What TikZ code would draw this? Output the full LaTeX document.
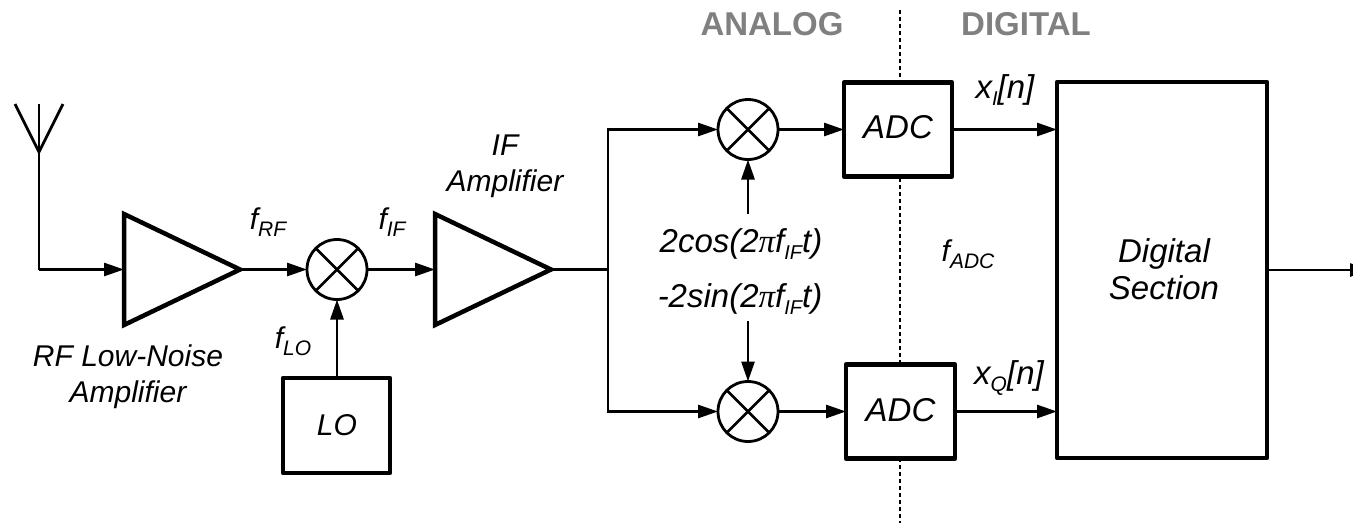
\documentclass[tikz,border=0pt]{standalone}
\usepackage{fontspec}
\setmainfont{Liberation Sans}
\newfontfamily\piface{Liberation Serif}
\usetikzlibrary{arrows.meta,shapes.geometric}
\newcommand{\sbsc}[1]{\raisebox{-0.24em}{\fontsize{21}{21}\selectfont #1}}
\newcommand{\sbsm}[1]{\raisebox{-0.2em}{\fontsize{20}{20}\selectfont #1}}
\newcommand{\pisym}{{\piface\itshape π}}
\tikzset{
  sig/.style={line width=2.8pt,-{Triangle[length=20pt,width=13pt]}},
  wire/.style={line width=2.8pt},
  thick box/.style={draw,line width=4.5pt,line join=round,inner sep=0pt,outer sep=0pt},
  amp/.style={draw,isosceles triangle,isosceles triangle stretches,line width=4.5pt,line join=miter,
    minimum width=111pt,minimum height=116pt,inner sep=0pt,outer sep=0pt,anchor=apex},
  mixer/.style={draw,circle,line width=2.8pt,minimum size=60pt,inner sep=0pt,outer sep=0pt},
  lbl/.style={inner sep=0pt,outer sep=0pt,align=center,font=\fontsize{30}{36}\selectfont\itshape},
  big/.style={lbl,font=\fontsize{33}{37}\selectfont\itshape},
  side/.style={inner sep=0pt,outer sep=0pt,text=black!50,font=\fontsize{33}{36}\selectfont\bfseries},
}
\begin{document}
\begin{tikzpicture}[x=1pt,y=-1pt]
\useasboundingbox (0,0) rectangle (1353,523);
% dashed boundary (behind the blocks)
\coordinate (dtop) at (900,10);
\coordinate (dbot) at (900,523);
\draw[line width=2.5pt,dash pattern=on 4pt off 3pt] (dtop) -- (dbot);
% antenna
\coordinate (anttop) at (39,104);
\coordinate (antl) at (15,104);
\coordinate (antr) at (63,104);
\coordinate (antj) at (39,152);
\coordinate (antb) at (39,269.5);
\draw[wire] (antl) -- (antj) -- (antr);
\draw[wire] (anttop) -- (antj) -- (antb);
% blocks
\node[amp] (rf) at (240,269.5) {};
\node[amp] (ifa) at (551,269.5) {};
\node[mixer] (m0) at (337,269.5) {};
\node[mixer] (m1) at (748,129.5) {};
\node[mixer] (m2) at (748,411.5) {};
\foreach \m in {m0,m1,m2}{
  \draw[line width=2.8pt] (\m.45) -- (\m.225);
  \draw[line width=2.8pt] (\m.135) -- (\m.315);
}
\node[thick box,fill=white,minimum width=107pt,minimum height=95pt] (lo) at (336.5,425.5) {};
\node[thick box,fill=white,minimum width=108pt,minimum height=94pt] (adc1) at (898,129.5) {};
\node[thick box,fill=white,minimum width=109pt,minimum height=94pt] (adc2) at (900.5,411.5) {};
\node[thick box,fill=white,minimum width=210pt,minimum height=376pt] (dig) at (1162,270) {};
% connectors
\draw[sig] (antb) -- (rf.west);
\draw[sig] (rf.apex) -- (m0.west);
\draw[sig] (m0.east) -- (ifa.west);
\draw[sig] (m0.south |- lo.north) -- (m0.south);
\coordinate (split) at (608,269.5);
\coordinate (splitt) at (608,129.5);
\coordinate (splitb) at (608,411.5);
\draw[wire] (ifa.apex) -- (split);
\draw[sig] (split) -- (splitt) -- (m1.west);
\draw[sig] (split) -- (splitb) -- (m2.west);
\draw[sig] (m1.east) -- (adc1.west);
\draw[sig] (m2.east) -- (adc2.west);
\draw[sig] (adc1.east) -- (dig.west |- adc1.east);
\draw[sig] (adc2.east) -- (dig.west |- adc2.east);
\coordinate (out) at (1370,270);
\draw[sig] (dig.east) -- (out);
% labels
\node[lbl] (tlna) at (128,377) {RF Low-Noise\\Amplifier};
\node[lbl] (tif) at (505,166) {IF\\Amplifier};
\node[lbl] (tfrf) at (268,222) {f\sbsc{RF}};
\node[lbl] (tfif) at (392,222) {f\sbsc{IF}};
\node[lbl] (tflo) at (293,341) {f\sbsc{LO}};
\node[lbl] (tlo) at (337,425) {LO};
\node[big] (tcos) at (741,244) {2cos(2\pisym f\sbsm{IF}t)};
\node[big] (tsin) at (740,299) {-2sin(2\pisym f\sbsm{IF}t)};
\coordinate (cosa) at (748,214);
\coordinate (sina) at (748,321);
\draw[sig] (cosa) -- (m1.south);
\draw[sig] (sina) -- (m2.north);
\node[big] (tadc1) at (898,127.5) {ADC};
\node[big] (tadc2) at (900.5,410) {ADC};
\node[lbl] (tfadc) at (968,254) {f\sbsc{ADC}};
\node[big] (txi) at (1005,90) {x\sbsm{I}[n]};
\node[big] (txq) at (1009,378) {x\sbsc{Q}[n]};
\node[big] (tdig) at (1164,269) {Digital\\Section};
\node[side] (tana) at (772,24) {ANALOG};
\node[side] (tdgt) at (1026,24) {DIGITAL};
\end{tikzpicture}
\end{document}
